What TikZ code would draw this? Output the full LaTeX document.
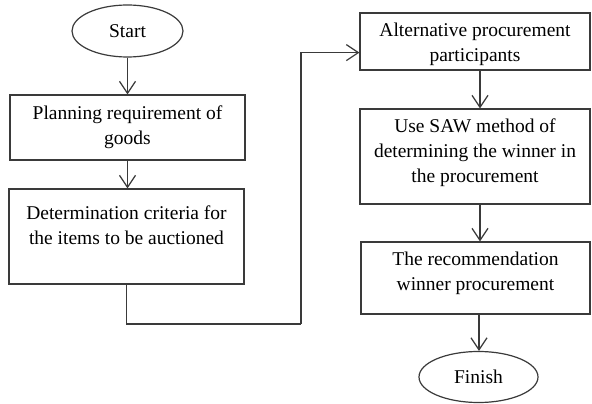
\documentclass[tikz,border=0pt]{standalone}
\usepackage{fontspec}
\setmainfont{Liberation Serif}
\usetikzlibrary{arrows.meta,shapes.geometric}
\definecolor{ln}{HTML}{3A3A3A}
\begin{document}
\begin{tikzpicture}[x=1pt,y=-1pt,
  line width=1.2pt,
  every node/.style={font=\fontsize{19.5}{25}\selectfont, text=black},
  boxshape/.style={draw=ln, rectangle, inner sep=0pt},
  termshape/.style={draw=ln, ellipse, inner sep=0pt},
  txt/.style={align=center, inner sep=0pt},
  flow/.style={draw=ln, -{Straight Barb[length=12pt,width=16pt,line width=1.2pt]}},
  link/.style={draw=ln}
]
\useasboundingbox (0,0) rectangle (592,404);
% terminals
\node[termshape, minimum width=111pt, minimum height=52pt] (start) at (127.5,31) {Start};
\node[termshape, minimum width=119pt, minimum height=51pt] (finish) at (478.5,377) {Finish};
% boxes
\node[boxshape, minimum width=235pt, minimum height=65pt] (b1) at (127.5,127.5) {};
\node[boxshape, minimum width=235pt, minimum height=95pt] (b2) at (126.5,236.5) {};
\node[boxshape, minimum width=230pt, minimum height=57pt] (b3) at (475,41.5) {};
\node[boxshape, minimum width=230pt, minimum height=95pt] (b4) at (475,156.5) {};
\node[boxshape, minimum width=229pt, minimum height=72pt] (b5) at (475.5,278) {};
% texts
\node[txt] (t1) at (127.5,127) {Planning requirement of\\goods};
\node[txt] (t2) at (126.5,225) {Determination criteria for\\the items to be auctioned};
\node[txt] (t3) at (475,44) {Alternative procurement\\participants};
\node[txt] (t4) at (475,152.5) {Use SAW method of\\determining the winner in\\the procurement};
\node[txt] (t5) at (475.5,273) {The recommendation\\winner procurement};
% connectors
\coordinate (c1) at (301,324);
\coordinate (c2) at ([yshift=18pt]b3.south west);
\draw[flow] (start.south) -- (start.south |- b1.north);
\draw[flow] (b1.south) -- (b1.south |- b2.north);
\draw[link] (b2.south) |- (c1);
\draw[flow] (c1) |- (c2);
\draw[flow] ([xshift=5pt]b3.south) -- ([xshift=5pt]b3.south |- b4.north);
\draw[flow] ([xshift=5pt]b4.south) -- ([xshift=5pt]b4.south |- b5.north);
\draw[flow] ([xshift=3.5pt]b5.south) -- ([xshift=3.5pt]b5.south |- finish.north);
\end{tikzpicture}
\end{document}
